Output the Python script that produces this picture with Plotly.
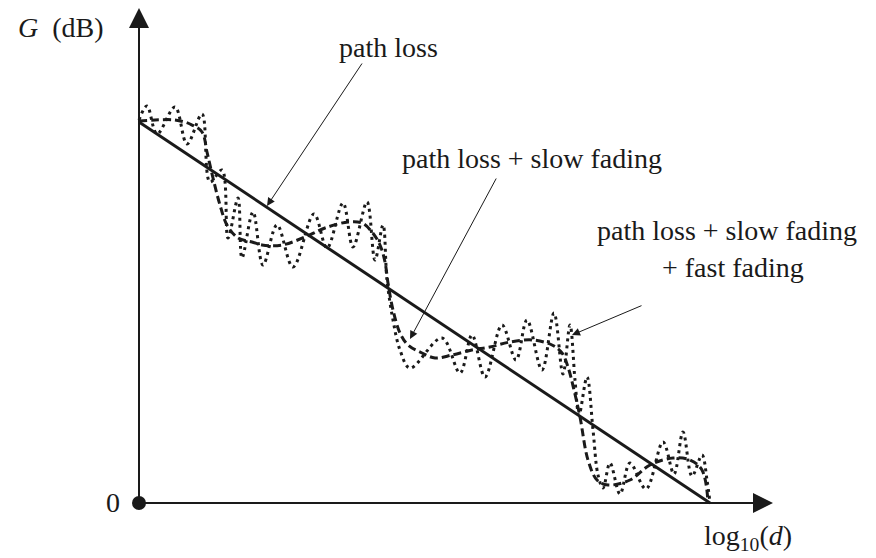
import plotly.graph_objects as go

# Distance axis (log10 d, arbitrary units) and gain values (dB, arbitrary units)
path_x = [0, 571]
path_y = [381, 0]

slow_x = [0, 16, 36, 51, 63, 68, 74, 81, 88, 99, 113, 123, 143, 166, 186, 209, 223, 233,
          241, 246, 249, 254, 261, 269, 283, 296, 313, 333, 351, 371, 394, 413, 423, 429,
          435, 441, 449, 458, 469, 491, 511, 534, 551, 563, 569]
slow_y = [382, 383, 383, 379, 371, 351, 325, 298, 278, 265, 261, 258, 258, 266, 275, 281, 280, 271,
          258, 241, 220, 193, 170, 158, 150, 145, 148, 153, 156, 161, 163, 158, 150, 136,
          113, 86, 43, 23, 18, 23, 38, 45, 43, 33, 1]

fast_x = [0, 8, 18, 36, 48, 63, 71, 83, 89, 99, 103, 114, 124, 138, 154, 175, 188, 204, 214,
          228, 236, 244, 248, 254, 261, 271, 303, 321, 333, 346, 363, 377, 388, 403, 415, 424,
          431, 436, 440, 448, 454, 459, 464, 471, 481, 491, 507, 524, 535, 544, 553, 563, 568, 571]
fast_y = [383, 397, 369, 396, 359, 389, 321, 333, 265, 305, 245, 291, 238, 278, 236, 289, 255, 300, 256,
          301, 243, 278, 223, 183, 153, 135, 165, 130, 168, 126, 178, 143, 183, 133, 190, 129,
          178, 123, 88, 126, 73, 28, 15, 40, 9, 40, 14, 61, 29, 71, 27, 48, 23, 0]

# Axis extents
x_end = 634
y_end = 495

INK = "#1a1a1a"
FONT = "Liberation Serif, DejaVu Serif, serif"

fig = go.Figure()

# coordinate axes
fig.add_trace(go.Scatter(x=[0, x_end - 10], y=[0, 0], mode="lines",
                         line=dict(color=INK, width=2), hoverinfo="skip"))
fig.add_trace(go.Scatter(x=[0, 0], y=[0, y_end - 10], mode="lines",
                         line=dict(color=INK, width=2), hoverinfo="skip"))
fig.add_trace(go.Scatter(x=[x_end], y=[0], mode="markers",
                         marker=dict(symbol="arrow-right", size=20, color=INK, line=dict(width=0)),
                         hoverinfo="skip"))
fig.add_trace(go.Scatter(x=[0], y=[y_end], mode="markers",
                         marker=dict(symbol="arrow-up", size=20, color=INK, line=dict(width=0)),
                         hoverinfo="skip"))

# gain curves
fig.add_trace(go.Scatter(x=fast_x, y=fast_y, mode="lines", line_shape="spline",
                         line=dict(color=INK, width=3, dash="3px,4px", smoothing=1.0),
                         name="path loss + slow fading + fast fading"))
fig.add_trace(go.Scatter(x=slow_x, y=slow_y, mode="lines", line_shape="spline",
                         line=dict(color=INK, width=3, dash="8px,4px", smoothing=1.0),
                         name="path loss + slow fading"))
fig.add_trace(go.Scatter(x=path_x, y=path_y, mode="lines",
                         line=dict(color=INK, width=3), name="path loss"))

# origin
fig.add_trace(go.Scatter(x=[0], y=[0], mode="markers",
                         marker=dict(symbol="circle", size=14, color=INK), hoverinfo="skip"))

txt = dict(family=FONT, size=28, color=INK)
labels = [
    ("<i>G</i>&nbsp;&nbsp;(dB)", -78, 476),
    ("0", -26, 1),
    ("log<sub>10</sub>(<i>d</i>)", 609, -34),
    ("path loss", 249, 456),
    ("path loss + slow fading", 393, 345),
    ("path loss + slow fading", 588, 273),
    ("+ fast fading", 594, 236),
]
for t, x, y in labels:
    fig.add_annotation(x=x, y=y, text=t, showarrow=False, font=txt,
                       xanchor="center", yanchor="middle")

# pointer arrows: (tip x, tip y, tail x, tail y)
pointers = [
    (128, 297, 224, 441),
    (271, 164, 358, 326),
    (433, 168, 504, 198),
]
for x, y, ax, ay in pointers:
    fig.add_annotation(x=x, y=y, ax=ax, ay=ay, axref="x", ayref="y", text="",
                       showarrow=True, arrowhead=2, arrowsize=1.6, arrowwidth=1,
                       arrowcolor=INK)

fig.update_layout(
    width=876, height=558,
    margin=dict(l=0, r=0, t=0, b=0),
    paper_bgcolor="white", plot_bgcolor="white",
    showlegend=False,
    xaxis=dict(range=[-139, 737], visible=False, fixedrange=True),
    yaxis=dict(range=[-55, 503], visible=False, fixedrange=True),
)

fig.write_html("out.html")
